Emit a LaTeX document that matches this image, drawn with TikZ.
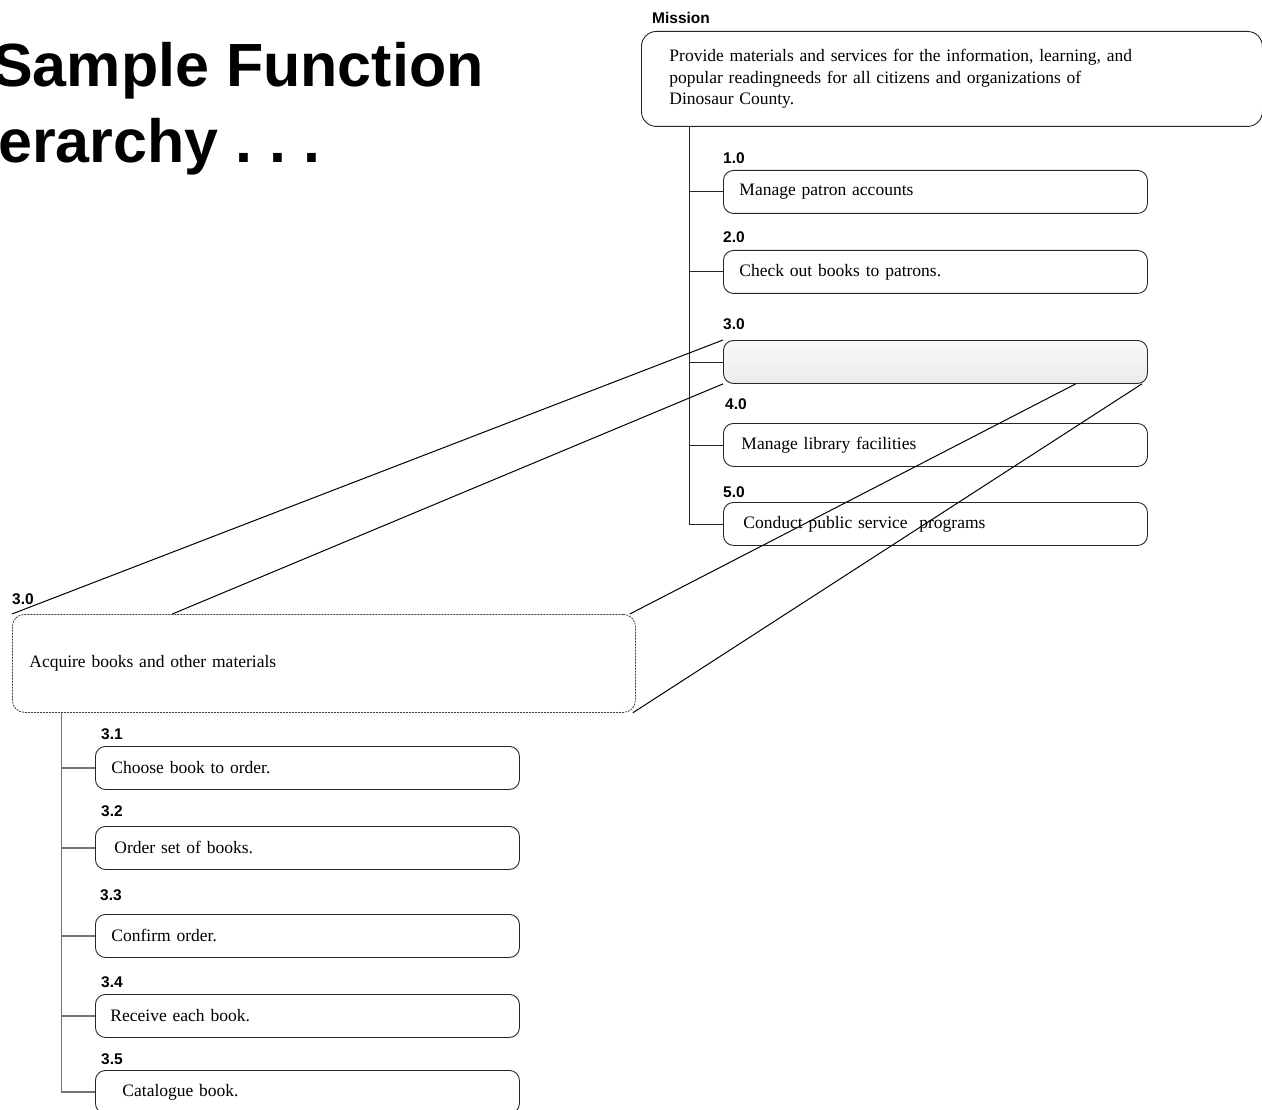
\documentclass[tikz,border=0pt]{standalone}
\usepackage{fontspec}
\setmainfont{Liberation Serif}
\newfontfamily\arialf{Liberation Sans}
\usetikzlibrary{calc}
\frenchspacing
\tikzset{
  box/.style={draw=black!85, line width=0.9pt, rounded corners=10pt, minimum height=43pt,
    text width=392pt, inner xsep=16pt, align=left, anchor=north west,
    font=\fontsize{17.5}{21}\selectfont},
  subbox/.style={box},
  numlabel/.style={anchor=base west, inner sep=0pt, font=\arialf\bfseries\fontsize{15.5}{18}\selectfont},
  tree/.style={draw=black!85, line width=0.9pt},
  subtree/.style={draw=black!55, line width=1.1pt},
  zoomline/.style={draw=black, line width=1pt},
  titletext/.style={anchor=base west, inner sep=0pt, font=\arialf\bfseries\fontsize{61}{70}\selectfont}
}
\begin{document}
\begin{tikzpicture}[x=1pt,y=-1pt]
\useasboundingbox (0,0) rectangle (1262,1110);
\clip (0,0) rectangle (1262,1110);

% Title
\node[titletext] (t1) at (-8,87) {Sample Function};
\node[titletext] (t2) at (-63,163) {Hierarchy . . .};

% Mission
\node[numlabel] (lm) at (652,24) {Mission};
\node[box, rounded corners=15pt, minimum height=95pt, text width=565pt, inner xsep=28pt,
  font=\fontsize{17.5}{21.5}\selectfont] (mission) at (641,31)
  {Provide materials and services for the information, learning, and\\
   popular readingneeds for all citizens and organizations of\\
   Dinosaur County.};

% Level-1 functions
\node[numlabel] (l1) at (723,164) {1.0};
\node[box] (b1) at (723,170) {Manage patron accounts};
\node[numlabel] (l2) at (723,243) {2.0};
\node[box] (b2) at (723,250) {Check out books to patrons.};
\node[numlabel] (l3) at (723,330) {3.0};
\node[box, top color=gray!4, bottom color=gray!16] (b3) at (723,340) {};
\node[numlabel] (l4) at (725,409) {4.0};
\node[box, inner xsep=18pt, text width=388pt] (b4) at (723,423) {Manage library facilities};
\node[numlabel] (l5) at (723,497) {5.0};
\node[box, inner xsep=20pt, text width=384pt] (b5) at (723,502) {Conduct public service\ \ programs};

% main tree
\coordinate (mtop) at ($(mission.south west)!0.0775!(mission.south east)$);
\coordinate (mbot) at (mtop |- b5.west);
\path[tree] (mtop) -- (mbot);
\foreach \b in {b1,b2,b3,b4,b5}{
  \path[tree] (mtop |- \b.west) -- (\b.west);
}

% Expanded 3.0
\node[numlabel] (l30) at (12,604) {3.0};
\node[draw=black!75, line width=0.8pt, dash pattern=on 2pt off 1pt, rounded corners=12pt,
  minimum height=98pt, text width=589pt, inner xsep=17pt, align=left, anchor=north west,
  font=\fontsize{17.5}{21}\selectfont] (d3) at (12,614) {Acquire books and other materials};

% zoom lines
\path[zoomline] (b3.north west) -- (d3.north west);
\path[zoomline] (b3.south west) -- ($(d3.north west)!0.257!(d3.north east)$);
\path[zoomline] ($(b3.south west)!0.83!(b3.south east)$) -- ($(d3.north east)+(-6,0)$);
\path[zoomline] ($(b3.south east)+(-6,0)$) -- ($(d3.south east)+(-3,0)$);

% Sub functions
\node[numlabel] (s1l) at (101,739) {3.1};
\node[subbox] (s1) at (95,746) {Choose book to order.};
\node[numlabel] (s2l) at (101,816) {3.2};
\node[subbox, inner xsep=19pt, text width=386pt] (s2) at (95,826) {Order set of books.};
\node[numlabel] (s3l) at (100,900) {3.3};
\node[subbox] (s3) at (95,914) {Confirm order.};
\node[numlabel] (s4l) at (101,987) {3.4};
\node[subbox, inner xsep=15pt, text width=394pt] (s4) at (95,994) {Receive each book.};
\node[numlabel] (s5l) at (101,1064) {3.5};
\node[subbox, inner xsep=27pt, text width=370pt] (s5) at (95,1070) {Catalogue book.};

% sub tree
\coordinate (stop) at ($(d3.south west)!0.0787!(d3.south east)$);
\path[subtree] (stop) -- (stop |- s5.west);
\foreach \b in {s1,s2,s3,s4,s5}{
  \path[subtree] (stop |- \b.west) -- (\b.west);
}
\end{tikzpicture}
\end{document}
